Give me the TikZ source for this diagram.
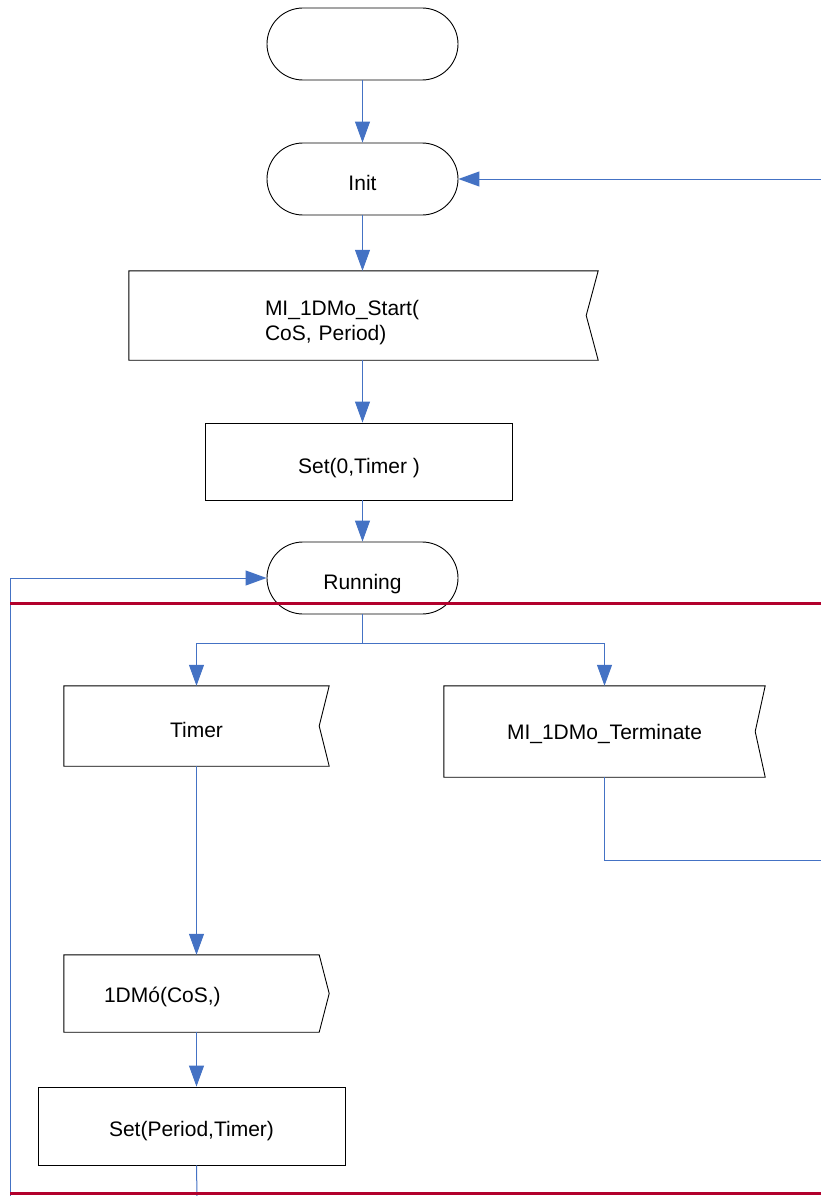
\documentclass[tikz,border=0pt]{standalone}
\usepackage{fontspec}
\setmainfont{Liberation Sans}
\usetikzlibrary{arrows.meta,positioning,calc}
\definecolor{connblue}{RGB}{68,114,196}
\definecolor{sepred}{RGB}{178,0,44}
% outline of an input signal (notch on the right) and an output signal (point on the right)
\newcommand{\sigin}[2]{\draw[outline] (#1.north west) -- (#1.north east) -- ([xshift=-#2]#1.east) -- (#1.south east) -- (#1.south west) -- cycle;}
\newcommand{\sigout}[2]{\draw[outline] (#1.north west) -- (#1.north east) -- ([xshift=#2]#1.east) -- (#1.south east) -- (#1.south west) -- cycle;}

\begin{document}
\begin{tikzpicture}[x=1pt,y=-1pt,
  font=\fontsize{21}{25}\selectfont,
  outline/.style={draw=black,line width=0.9pt},
  low/.style={text height=#1,text depth=0pt},low/.default=23pt,
  term/.style={outline,low,rounded corners=36pt,minimum width=191pt,minimum height=72pt,inner sep=0pt},
  proc/.style={outline,low,minimum width=307pt,minimum height=77pt,inner sep=0pt},
  sig/.style={low,inner sep=0pt},
  conn/.style={draw=connblue,line width=1pt},
  arr/.style={conn,-{Triangle[length=21pt,width=15pt]}},
  sep/.style={draw=sepred,line width=3pt}]
  \useasboundingbox (0,0) rectangle (821,1196);
  \node[term] (start) at (362.5,44) {};
  \node[term] (init) at (362.5,179) {Init};
  \node[sig,text height=12pt,text depth=12pt,minimum width=469pt,minimum height=89pt,align=left,text width=197pt,inner xsep=136pt] (mistart) at (363.5,315.5) {MI\_1DMo\_Start(\\CoS, Period)};
  \sigin{mistart}{12pt}
  \node[proc,low=24pt] (settimer) at (359,461.5) {Set(0,Timer )};
  \node[term] (running) at (362.5,578) {Running};
  \node[sig,minimum width=265pt,minimum height=80pt] (timer) at (196.5,726) {Timer};
  \sigin{timer}{10pt}
  \node[sig,low=16pt,minimum width=321pt,minimum height=91pt] (terminate) at (604.5,731.5) {MI\_1DMo\_Terminate};
  \sigin{terminate}{10pt}
  \node[sig,low=18pt,minimum width=255pt,minimum height=77pt,align=left,text width=175pt,inner xsep=40pt] (onedmo) at (191.5,993.5) {1DMó(CoS,)};
  \sigout{onedmo}{10pt}
  \node[proc,low=21pt,minimum height=78pt] (setperiod) at (191.5,1126) {Set(Period,Timer)};
  % free ends of the connectors
  \coordinate (split) at (362.5,643);
  \coordinate (loopend) at (10,1196);
  \coordinate (periodend) at (197,1196);
  \coordinate (backin) at (821,179);
  \coordinate (termout) at (821,860);
  \draw[arr] (start) -- (init);
  \draw[arr] (init) -- (init.south |- mistart.north);
  \draw[arr] (init.south |- mistart.south) -- (init.south |- settimer.north);
  \draw[arr] (init.south |- settimer.south) -- (running);
  \draw[conn] (running) -- (split);
  \draw[arr] (split) -| (timer.north);
  \draw[arr] (split) -| (terminate.north);
  \draw[arr] (timer) -- (timer.south |- onedmo.north);
  \draw[arr] (timer.south |- onedmo.south) -- (timer.south |- setperiod.north);
  \draw[conn] (timer.south |- setperiod.south) -- (periodend);
  \draw[arr] (loopend) |- (running.west);
  \draw[conn] (terminate) |- (termout);
  \draw[arr] (backin) -- (init);
  % swimlane separators
  \draw[sep] (10,603) coordinate (sepa) -- (821,603) coordinate (sepb);
  \draw[sep] (10,1193) coordinate (sepc) -- (821,1193) coordinate (sepd);
\end{tikzpicture}
\end{document}
